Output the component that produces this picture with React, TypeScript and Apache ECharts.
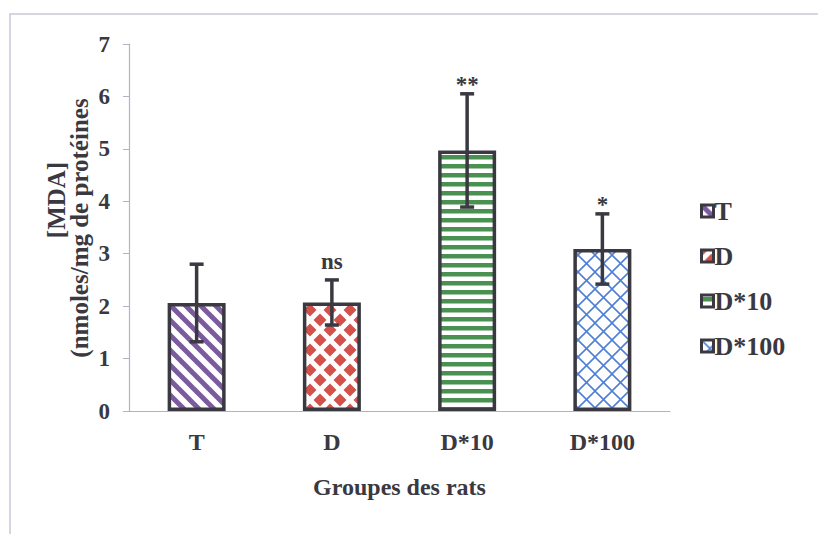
import React, { useEffect, useRef } from "react";
import * as echarts from "echarts";

const categories = ["T", "D", "D*10", "D*100"];
const means = [2.06, 2.07, 4.97, 3.09];
const sds = [0.74, 0.43, 1.08, 0.67];
const sigLabels = ["", "ns", "**", "*"];
const yTicks = { min: 0, max: 7, interval: 1 };

const FONT = "'Liberation Serif', 'Times New Roman', serif";
const DARK = "#3a3840";
const AXIS = "#b6b0c6";

function makeCanvas(w: number, h: number) {
  const c = document.createElement("canvas");
  c.width = w;
  c.height = h;
  const ctx = c.getContext("2d")!;
  ctx.fillStyle = "#ffffff";
  ctx.fillRect(0, 0, w, h);
  return { c, ctx };
}

function stripesDiag() {
  const s = 15;
  const { c, ctx } = makeCanvas(s, s);
  ctx.strokeStyle = "#7b5a9e";
  ctx.lineWidth = 5;
  for (let k = -2; k <= 2; k++) {
    ctx.beginPath();
    ctx.moveTo(k * s - s, -s);
    ctx.lineTo(k * s + 2 * s, 2 * s);
    ctx.stroke();
  }
  return c;
}

function diamonds() {
  const s = 20;
  const { c, ctx } = makeCanvas(s, s);
  ctx.fillStyle = "#d2514b";
  const r = 6.5;
  const pts = [[0, 0], [s, 0], [0, s], [s, s], [s / 2, s / 2]];
  for (const [x, y] of pts) {
    ctx.beginPath();
    ctx.moveTo(x, y - r);
    ctx.lineTo(x + r, y);
    ctx.lineTo(x, y + r);
    ctx.lineTo(x - r, y);
    ctx.closePath();
    ctx.fill();
  }
  return c;
}

function stripesHoriz() {
  const { c, ctx } = makeCanvas(10, 9);
  ctx.fillStyle = "#4a9151";
  ctx.fillRect(0, 2, 10, 4.5);
  return c;
}

function crossHatch() {
  const s = 17;
  const { c, ctx } = makeCanvas(s, s);
  ctx.strokeStyle = "#4f80d6";
  ctx.lineWidth = 1.6;
  for (let k = -1; k <= 1; k++) {
    ctx.beginPath();
    ctx.moveTo(k * s - s, -s);
    ctx.lineTo(k * s + 2 * s, 2 * s);
    ctx.stroke();
    ctx.beginPath();
    ctx.moveTo(k * s + 2 * s, -s);
    ctx.lineTo(k * s - s, 2 * s);
    ctx.stroke();
  }
  return c;
}

export default function App() {
  const ref = useRef<HTMLDivElement>(null);

  useEffect(() => {
    if (!ref.current) return;
    const chart = echarts.init(ref.current, undefined, { renderer: "svg" });
    const patterns = [stripesDiag(), diamonds(), stripesHoriz(), crossHatch()];

    const barSeries = categories.map((name, i) => ({
      name,
      type: "bar",
      stack: "all",
      barWidth: 58,
      data: categories.map((_, j) => (j === i ? means[i] : null)),
      itemStyle: {
        color: { image: patterns[i], repeat: "repeat" },
        borderColor: DARK,
        borderWidth: 3.5,
      },
      z: 2,
    }));

    const errData = categories.map((_, i) => [i, means[i], sds[i], sigLabels[i]]);

    const option: any = {
      animation: false,
      backgroundColor: "#ffffff",
      grid: { left: 129, right: 148, top: 44, bottom: 123 },
      legend: {
        orient: "vertical",
        left: 695,
        top: 193,
        itemWidth: 12,
        itemHeight: 12,
        itemGap: 19,
        icon: "rect",
        data: categories,
        itemStyle: { borderColor: DARK, borderWidth: 3 },
        textStyle: {
          fontFamily: FONT,
          fontWeight: "bold",
          fontSize: 26,
          color: DARK,
          padding: [0, 0, 0, -4],
        },
      },
      xAxis: {
        type: "category",
        data: categories,
        axisLine: { lineStyle: { color: AXIS, width: 1.2 } },
        axisTick: { show: false },
        axisLabel: {
          margin: 19,
          fontFamily: FONT,
          fontWeight: "bold",
          fontSize: 24,
          color: DARK,
        },
        name: "Groupes des rats",
        nameLocation: "middle",
        nameGap: 64,
        nameTextStyle: {
          fontFamily: FONT,
          fontWeight: "bold",
          fontSize: 24,
          color: DARK,
        },
      },
      yAxis: {
        type: "value",
        min: yTicks.min,
        max: yTicks.max,
        interval: yTicks.interval,
        axisLine: { show: true, lineStyle: { color: AXIS, width: 1.2 } },
        axisTick: { show: true, length: 6, lineStyle: { color: AXIS } },
        splitLine: { show: false },
        axisLabel: {
          margin: 19,
          fontFamily: FONT,
          fontWeight: "bold",
          fontSize: 23,
          color: DARK,
        },
      },
      graphic: [
        {
          type: "rect",
          shape: { x: 10, y: 14, width: 830, height: 540 },
          style: { fill: "none", stroke: "#cbc6d8", lineWidth: 1.5 },
          silent: true,
        },
        {
          type: "text",
          x: 56,
          y: 200,
          rotation: Math.PI / 2,
          style: {
            text: "[MDA]",
            fontFamily: FONT,
            fontWeight: "bold",
            fontSize: 25,
            fill: DARK,
            align: "center",
            verticalAlign: "middle",
          },
        },
        {
          type: "text",
          x: 79,
          y: 228,
          rotation: Math.PI / 2,
          style: {
            text: "(nmoles/mg de protéines",
            fontFamily: FONT,
            fontWeight: "bold",
            fontSize: 25,
            fill: DARK,
            align: "center",
            verticalAlign: "middle",
          },
        },
      ],
      series: [
        ...barSeries,
        {
          type: "custom",
          name: "err",
          z: 5,
          data: errData,
          renderItem: (params: any, api: any) => {
            const idx = api.value(0);
            const m = api.value(1);
            const sd = api.value(2);
            const lab = errData[params.dataIndex][3] as string;
            const top = api.coord([idx, m + sd]);
            const bot = api.coord([idx, m - sd]);
            const x = top[0];
            const cap = 7;
            const ls = { stroke: DARK, lineWidth: 3.5 };
            const children: any[] = [
              { type: "line", shape: { x1: x, y1: top[1], x2: x, y2: bot[1] }, style: ls },
              { type: "line", shape: { x1: x - cap, y1: top[1], x2: x + cap, y2: top[1] }, style: ls },
              { type: "line", shape: { x1: x - cap, y1: bot[1], x2: x + cap, y2: bot[1] }, style: ls },
            ];
            if (lab) {
              const isStar = lab.indexOf("*") >= 0;
              children.push({
                type: "text",
                x,
                y: top[1] + (isStar ? 2 : -7),
                style: {
                  text: lab,
                  fontFamily: FONT,
                  fontWeight: "bold",
                  fontSize: 23,
                  fill: DARK,
                  align: "center",
                  verticalAlign: "bottom",
                },
              });
            }
            return { type: "group", children };
          },
        },
      ],
    };

    chart.setOption(option);
    return () => chart.dispose();
  }, []);

  return (
    <div
      ref={ref}
      style={{ position: "fixed", left: 0, top: 0, width: 818, height: 534 }}
    />
  );
}
